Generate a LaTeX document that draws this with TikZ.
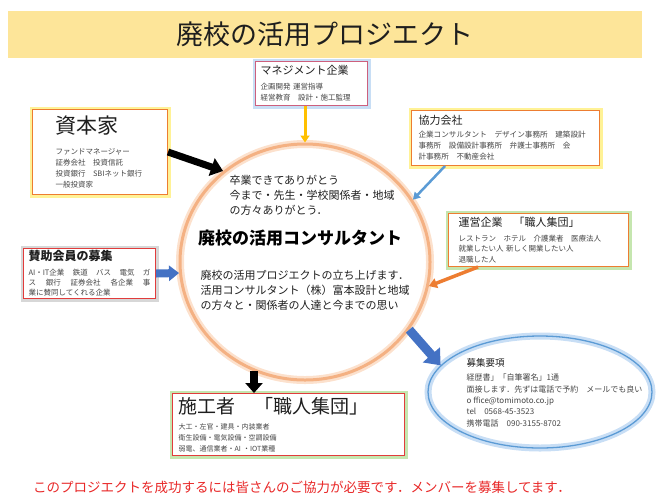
\documentclass[tikz,border=0pt]{standalone}
\usepackage{fontspec}
\setmainfont{Noto Sans CJK JP}
\usetikzlibrary{arrows.meta,shapes.geometric,calc}
\definecolor{banner}{RGB}{253,229,153}
\definecolor{ink}{RGB}{30,30,30}
\definecolor{txtgray}{RGB}{70,70,70}
\definecolor{ringc}{RGB}{244,177,131}
\definecolor{ringglow}{RGB}{252,225,205}
\definecolor{gold}{RGB}{255,192,0}
\definecolor{orng}{RGB}{237,125,49}
\definecolor{skyb}{RGB}{91,155,213}
\definecolor{royal}{RGB}{68,114,196}
\definecolor{yglow}{RGB}{255,242,150}
\definecolor{gglow}{RGB}{197,230,175}
\definecolor{bglow}{RGB}{200,222,245}
\definecolor{grglow}{RGB}{215,215,215}
\definecolor{redline}{RGB}{225,60,60}
\definecolor{pinkline}{RGB}{205,95,125}
\definecolor{txtred}{RGB}{232,40,40}
\newcommand\fsz[2]{\fontsize{#1}{#2}\selectfont}

\begin{document}
\begin{tikzpicture}[x=1pt,y=-1pt,semithick,
card/.style 2 args={draw=#1,fill=white,line width=1pt,preaction={draw=#2,line width=6pt},
  anchor=north west,align=left,text=txtgray,inner ysep=1pt,font=\fsz{7.5}{11}}]
\useasboundingbox (0,0) rectangle (660,499);
\node[fill=banner,minimum width=634pt,minimum height=47pt,text=ink,font=\fsz{27}{30}] (banner) at (325,34) {廃校の活用プロジエクト};
\node[card={pinkline}{bglow},minimum width=112pt,minimum height=44pt,text width=102pt,inner xsep=5pt] (mgmt) at (255,61)
 {{\fsz{11}{13}\color{ink}マネジメント企業}\\[3.7pt]企画開発 運営指導\\経営教育　設計・施工監理};
\node[card={orng}{yglow},minimum width=135pt,minimum height=85pt,text width=89pt,inner xsep=23pt] (capital) at (32,109)
 {{\fsz{21}{24}\color{ink}資本家}\\[10pt]ファンドマネージャー\\証券会社　投資信託\\投資銀行　SBIネット銀行\\一般投資家};
\node[card={orng}{yglow},minimum width=188pt,minimum height=55pt,text width=174pt,inner xsep=7pt,font=\fsz{7.6}{11.3}] (partner) at (411,110)
 {{\fsz{11}{13}\color{ink}協力会社}\\[1pt]企業コンサルタント　デザイン事務所　建築設計\\事務所　設備設計事務所　弁護士事務所　会\\計事務所　不動産会社};
\node[card={orng}{gglow},minimum width=180pt,minimum height=53pt,text width=160pt,inner xsep=10pt,font=\fsz{7.5}{10.5}] (operator) at (448,213)
 {{\fsz{11}{13}\color{ink}運営企業　「職人集団」}\\[3.8pt]レストラン　ホテル　介護業者　医療法人\\就業したい人 新しく開業したい人\\退職した人};
\node[card={redline}{grglow},minimum width=132pt,minimum height=50pt,text width=122pt,inner xsep=5pt,font=\fsz{7.5}{10}] (support) at (23,248)
 {{\fsz{12}{14}\bfseries\color{ink}賛助会員の募集}\\[4.7pt]AI・IT企業\hfill 鉄道\hfill バス\hfill 電気\hfill ガ\\ス\hfill 銀行\hfill 証券会社\hfill 各企業\hfill 事\\業に賛同してくれる企業};
\node[card={redline}{gglow},minimum width=232pt,minimum height=62pt,text width=220pt,inner xsep=6pt,font=\fsz{7}{11}] (builder) at (172,393)
 {{\fsz{19}{22}\color{ink}施工者　「職人集団」}\\[5pt]大工・左官・建具・内装業者\\衛生設備・電気設備・空調設備\\弱電、通信業者・AI ・IOT業種};
\node[ellipse,draw=ringc,line width=3pt,preaction={draw=ringglow,line width=8pt},minimum width=250pt,minimum height=236pt] (hub) at (305,262) {};
\node[align=left,text=ink,font=\fsz{11}{15}] (thanks) at (312,195) {卒業できてありがとう\\今まで・先生・学校関係者・地域\\の方々ありがとう．};
\node[text=black,font=\fsz{17}{20}\bfseries] (hubtitle) at (300,238) {廃校の活用コンサルタント};
\node[align=left,text=ink,font=\fsz{11}{15}] (launch) at (305,290) {廃校の活用プロジエクトの立ち上げます．\\活用コンサルタント（株）富本設計と地域\\の方々と・関係者の人達と今までの思い};
\node[ellipse,draw=skyb,line width=1.3pt,preaction={draw=bglow,line width=7pt},minimum width=224pt,minimum height=112pt] (recruit) at (540,392) {};
\node[align=left,anchor=west,text=txtgray,font=\fsz{8}{11.4}] (recruittxt) at (463,393)
 {{\fsz{9.5}{12}\color{ink}募集要項}\\[2.4pt]経歴書」「自筆署名」1通\\面接します．先ずは電話で予約　メールでも良い\\o ffice@tomimoto.co.jp\\tel　0568-45-3523\\携帯電話　090-3155-8702};
\node[text=txtred,font=\fsz{13.5}{15}] (appeal) at (302,487) {このプロジエクトを成功するには皆さんのご協力が必要です．メンバーを募集してます．};
\draw[gold,line width=3pt,-{Triangle[width=9pt,length=7pt]}] (hub.north |- mgmt.south) -- (hub.north);
\draw[line width=7pt,-{Triangle[width=18pt,length=12pt]}] (capital.east) -- (hub.132);
\draw[skyb,line width=2.5pt,-{Triangle[width=8pt,length=7pt]}] ($(partner.south west)+(34,0)$) -- (hub.30);
\draw[orng,line width=3.5pt,-{Triangle[width=10pt,length=8pt]}] ($(operator.south west)+(30,0)$) -- (hub.-11);
\draw[royal,line width=8pt,-{Triangle[width=15pt,length=10pt]}] (support.east) -- (hub.185);
\draw[royal,line width=9pt,-{Triangle[width=22pt,length=14pt]}] (hub.-33) -- (recruit.165);
\draw[line width=8pt,-{Triangle[width=17pt,length=10pt]}] (hub.245) -- (hub.245 |- builder.north);
\end{tikzpicture}
\end{document}
